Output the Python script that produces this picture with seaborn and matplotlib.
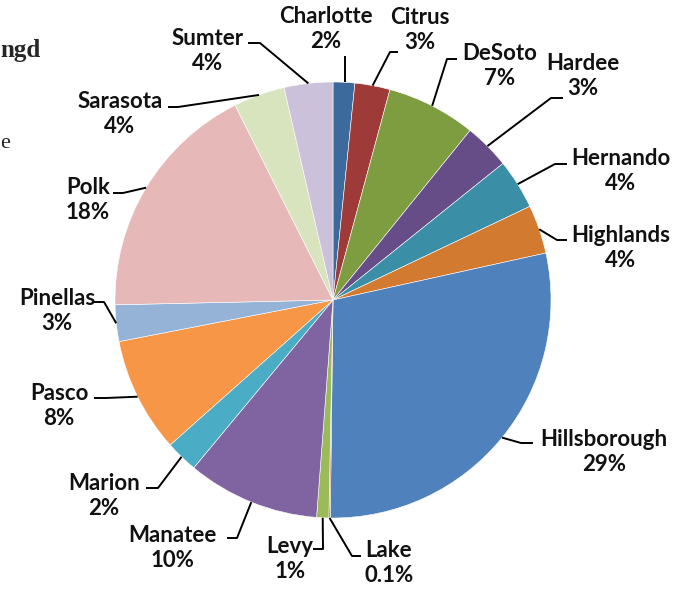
import numpy as np
import matplotlib
matplotlib.use("Agg")
import matplotlib.pyplot as plt
import seaborn as sns

# data (share of total, %)
counties = ["Charlotte", "Citrus", "DeSoto", "Hardee", "Hernando", "Highlands",
            "Hillsborough", "Lake", "Levy", "Manatee", "Marion", "Pasco",
            "Pinellas", "Polk", "Sarasota", "Sumter"]
shares = [1.6, 2.6, 6.6, 3.4, 3.7, 3.6, 28.6, 0.1, 0.9, 9.8, 2.4, 8.5,
          2.7, 17.9, 3.8, 3.6]
pct_labels = ["2%", "3%", "7%", "3%", "4%", "4%", "29%", "0.1%", "1%", "10%",
              "2%", "8%", "3%", "18%", "4%", "4%"]
colors = ["#3C6A9C", "#9E3B39", "#7E9C40", "#664D88", "#3A8FA6", "#D27A2F",
          "#4F81BD", "#C0504D", "#9BBB59", "#8064A2", "#4BACC6", "#F79646",
          "#95B3D7", "#E6B9B8", "#D7E4BD", "#CCC1DA"]

# label layout in pixels: text centre, leader start, horizontal run
label_pos = [(326, 29), (420, 30), (500, 66), (583, 76), (621, 171), (621, 248),
             (604, 452), (389, 563), (290, 559), (172, 548), (104, 496), (59, 406),
             (57, 311), (88, 200), (120, 114), (208, 51)]
leader_start = [(345, 56), (398, 52), (457, 59), (563, 98), (567, 164), (567, 240),
                (533, 443), (361, 556), (313, 549), (227, 538), (146, 488), (94, 398),
                (92, 302), (113, 193), (168, 107), (248, 43)]
leader_run = [0, -8, -10, -12, -12, -10, -12, -9, 10, 10, 12, 12, 12, 10, 10, 12]

W, H = 676, 593
CX, CY, R = 333, 300, 218

sns.set_theme(style="white")
plt.rcParams["font.family"] = ["Lato", "DejaVu Sans"]

fig = plt.figure(figsize=(W / 100, H / 100), dpi=100)
ax = fig.add_axes([0, 0, 1, 1])

wedges, _ = ax.pie(shares, colors=colors, startangle=-90, counterclock=True,
                   center=(CX, CY), radius=R, frame=True,
                   wedgeprops=dict(edgecolor="white", linewidth=0.4))
ax.set_xlim(0, W)
ax.set_ylim(H, 0)
ax.set_aspect("equal")
ax.axis("off")

for w, name, pct, (tx, ty), (lx, ly), run in zip(
        wedges, counties, pct_labels, label_pos, leader_start, leader_run):
    mid = np.deg2rad((w.theta1 + w.theta2) / 2)
    px, py = CX + R * np.cos(mid), CY + R * np.sin(mid)
    if run == 0:
        px = lx
    ax.plot([lx, lx + run, px], [ly, ly, py], color="black", lw=1.4,
            solid_capstyle="butt", zorder=3)
    ax.text(tx, ty, f"{name}\n{pct}", ha="center", va="center",
            fontsize=16, fontweight="bold", linespacing=1.2, color="#111111")

# fragments of the surrounding document
ax.text(0, 50, "ngd", ha="left", va="center", fontsize=18,
        fontweight="bold", family=["Liberation Serif", "DejaVu Serif"])
ax.text(0, 143, "e", ha="left", va="center", fontsize=16,
        family=["Liberation Serif", "DejaVu Serif"])

fig.savefig("out.png", dpi=100)
